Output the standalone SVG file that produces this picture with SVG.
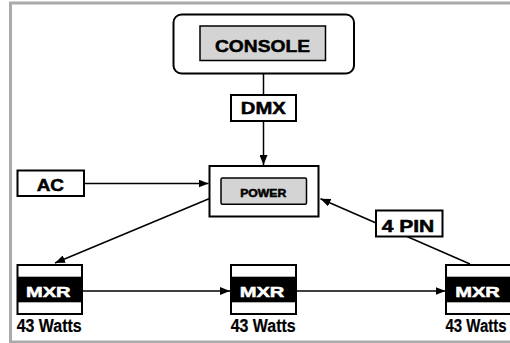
<svg xmlns="http://www.w3.org/2000/svg" width="510" height="343" viewBox="0 0 510 343">
<style>
.box{fill:#fff;stroke:#000;stroke-width:2}
.gray{fill:#d4d4d4;stroke:#000;stroke-width:1.5}
.lbl{font-family:"Liberation Sans",Arial,sans-serif;font-weight:bold;fill:#000;stroke:#000;stroke-width:0.5}
.w{fill:#fff;stroke:#fff}
.watts{font-family:"Liberation Sans",Arial,sans-serif;font-weight:bold;font-size:17.5px;fill:#000;stroke:#000;stroke-width:0.2}
.conn{stroke:#000;stroke-width:1.5;fill:none}
</style>
<defs>
<marker id="ah" markerWidth="10" markerHeight="8" refX="10" refY="4" orient="auto" markerUnits="userSpaceOnUse">
<path d="M0,0 L10,4 L0,8 Z" fill="#000"/>
</marker>
</defs>
<rect x="0" y="0" width="510" height="343" fill="#fff"/>
<rect x="10.5" y="3" width="520" height="339" fill="none" stroke="#aaa" stroke-width="3"/>
<g id="connectors">
<line class="conn" x1="263.5" y1="73" x2="263.5" y2="95"/>
<line class="conn" x1="263.5" y1="121" x2="263.5" y2="165" marker-end="url(#ah)"/>
<line class="conn" x1="84" y1="183.5" x2="208.5" y2="183.5" marker-end="url(#ah)"/>
<line class="conn" x1="209" y1="198.7" x2="55" y2="263" marker-end="url(#ah)"/>
<line class="conn" x1="470" y1="264" x2="320.5" y2="198.7" marker-end="url(#ah)"/>
<line class="conn" x1="82" y1="291" x2="230" y2="291" marker-end="url(#ah)"/>
<line class="conn" x1="296" y1="291" x2="445.5" y2="291" marker-end="url(#ah)"/>
</g>
<g id="console">
<rect class="box" x="173.5" y="14.5" width="180.5" height="59" rx="8"/>
<rect class="gray" x="200" y="26" width="125.5" height="34.5"/>
<text class="lbl" x="262.5" y="52.3" font-size="17" text-anchor="middle" textLength="95" lengthAdjust="spacingAndGlyphs">CONSOLE</text>
</g>
<g id="dmx">
<rect class="box" x="231" y="95" width="65" height="26"/>
<text class="lbl" x="263.3" y="113.5" font-size="16.5" text-anchor="middle" textLength="45" lengthAdjust="spacingAndGlyphs">DMX</text>
</g>
<g id="power">
<rect class="box" x="209.5" y="166" width="109" height="50.5"/>
<rect class="gray" x="221" y="178" width="85.5" height="26.3" rx="1.5"/>
<text class="lbl" x="263.2" y="196.7" font-size="10" text-anchor="middle" textLength="46" lengthAdjust="spacingAndGlyphs" stroke-width="0.3">POWER</text>
</g>
<g id="ac">
<rect class="box" x="17.5" y="170.5" width="66.5" height="25.5"/>
<text class="lbl" x="50.3" y="191.3" font-size="16.5" text-anchor="middle" textLength="27.3" lengthAdjust="spacingAndGlyphs">AC</text>
</g>
<g id="pin4">
<rect class="box" x="376" y="210.5" width="66.5" height="26"/>
<text class="lbl" x="408" y="231.7" font-size="16.5" text-anchor="middle" textLength="52.6" lengthAdjust="spacingAndGlyphs">4 PIN</text>
</g>
<g id="mxr1">
<rect class="box" x="17.5" y="265" width="64.5" height="49"/>
<rect x="17.5" y="276.7" width="64.5" height="25.6" fill="#000"/>
<text class="lbl w" x="48.3" y="296.7" font-size="15.5" text-anchor="middle" textLength="44.7" lengthAdjust="spacingAndGlyphs">MXR</text>
<text class="watts" x="16.7" y="331.7" textLength="65" lengthAdjust="spacingAndGlyphs">43 Watts</text>
</g>
<g id="mxr2">
<rect class="box" x="231" y="265" width="65" height="49"/>
<rect x="231" y="276.7" width="65" height="25.6" fill="#000"/>
<text class="lbl w" x="262" y="296.7" font-size="15.5" text-anchor="middle" textLength="44.7" lengthAdjust="spacingAndGlyphs">MXR</text>
<text class="watts" x="230.7" y="331.7" textLength="65" lengthAdjust="spacingAndGlyphs">43 Watts</text>
</g>
<g id="mxr3">
<rect class="box" x="446" y="265" width="66" height="49"/>
<rect x="446" y="276.7" width="66" height="25.6" fill="#000"/>
<text class="lbl w" x="477.5" y="296.7" font-size="15.5" text-anchor="middle" textLength="44.7" lengthAdjust="spacingAndGlyphs">MXR</text>
<text class="watts" x="445.5" y="331.7" textLength="61" lengthAdjust="spacingAndGlyphs">43 Watts</text>
</g>
</svg>
